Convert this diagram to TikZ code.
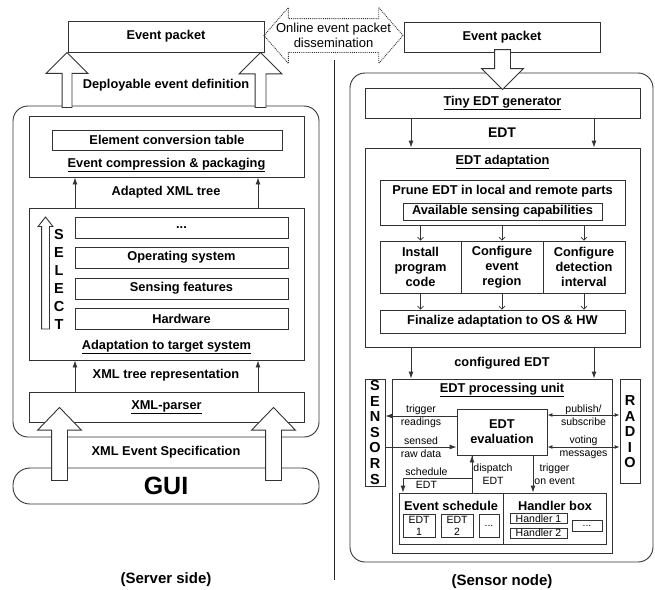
\documentclass[tikz,border=0pt]{standalone}
\usepackage{fontspec}
\setmainfont{Liberation Sans}
\usetikzlibrary{shapes.arrows, arrows.meta}

\begin{document}
\begin{tikzpicture}[
    x=1pt, y=-1pt,
    every node/.style={font=\fontsize{12.8}{15}\selectfont\bfseries},
    block/.style={rectangle, draw=black!80, line width=0.9pt, inner sep=0pt, align=center},
    layer/.style={block, minimum width=213pt, minimum height=21pt},
    slot/.style={block, font=\fontsize{10.5}{12}\selectfont},
    sidebox/.style={rectangle, draw=black!80, line width=0.9pt, rounded corners=15pt},
    lbl/.style={inner sep=0pt, align=center, font=\fontsize{10.5}{13}\selectfont},
    letter/.style={inner sep=0pt, font=\fontsize{14.5}{15}\selectfont\bfseries},
    hollow/.style={single arrow, draw=black!80, fill=white, line width=0.9pt,
        inner xsep=0pt, outer sep=0pt, anchor=tip, single arrow tip angle=90},
    share/.style={double arrow, draw=black!80, densely dotted, line width=0.9pt,
        inner xsep=0pt, inner ysep=16.5pt, double arrow head extend=11pt,
        double arrow tip angle=98},
    flow/.style={-{Latex[length=7pt, width=5pt]}, draw=black!80, line width=0.9pt},
    twoway/.style={{Latex[length=5pt, width=4pt]}-{Latex[length=5pt, width=4pt]},
        draw=black!80, line width=0.9pt},
    thin flow/.style={-{Straight Barb[length=3pt, width=6pt]}, draw=black!80, line width=0.6pt}
]
\useasboundingbox[fill=white] (0,0) rectangle (655,589);

% ---------------- Server side ----------------
\node[sidebox, minimum width=306pt, minimum height=331pt] (server) at (166,271.5) {};
\node[block, minimum width=196pt, minimum height=31pt] (lpacket) at (166,36.5) {Event packet};
\node (deploy) at (166,85) {Deployable event definition};

% Compression
\node[block, minimum width=275pt, minimum height=61pt] (compress) at (166.5,146.5) {};
\node[block, minimum width=230pt, minimum height=20pt] (table) at (167,140) {Element conversion table};
\node (comptitle) at (166.5,165) {\underline{Event compression \& packaging}};
\node (adapted) at (166,192) {Adapted XML tree};

% Adaptation to target system
\node[block, minimum width=275pt, minimum height=152pt] (adapt) at (166.5,284) {};
\node[layer] (more) at (181.5,227.5) {...};
\node[layer] (os) at (181.5,257.5) {Operating system};
\node[layer] (sensing) at (181.5,288.5) {Sensing features};
\node[layer] (hw) at (181.5,319) {Hardware};
\node (adapttitle) at (166.5,347) {\underline{Adaptation to target system}};
\node[hollow, rotate=90, minimum height=112pt, inner ysep=3.5pt,
    single arrow head extend=3.5pt, single arrow tip angle=76] (select) at (45.5,217) {};
\foreach \ch [count=\i] in {S,E,L,E,C,T}
    \node[letter] (sel\i) at (59,217+18*\i) {\ch};

% Parser and GUI
\node (xmltree) at (166,375) {XML tree representation};
\node[block, minimum width=275pt, minimum height=30pt] (parser) at (166.5,407) {\underline{XML-parser}};
\node (spec) at (166,452) {XML Event Specification};
\node[sidebox, rounded corners=17pt, minimum width=306pt, minimum height=36pt,
    font=\fontsize{25}{25}\selectfont\bfseries] (gui) at (166,486) {GUI};

% Thin arrows
\coordinate (lcol1) at (75,0);
\coordinate (lcol2) at (258,0);
\foreach \col in {lcol1, lcol2} {
    \draw[flow] (adapt.north -| \col) -- (compress.south -| \col);
    \draw[flow] (parser.north -| \col) -- (adapt.south -| \col);
}

% Hollow arrows
\node[hollow, rotate=90, minimum height=55pt, inner ysep=4.5pt,
    single arrow head extend=16pt] (defup1) at ([xshift=-99pt]lpacket.south) {};
\node[hollow, rotate=90, minimum height=55pt, inner ysep=5pt,
    single arrow head extend=16pt] (defup2) at ([xshift=94.5pt]lpacket.south) {};
\node[hollow, rotate=90, minimum height=73pt, inner ysep=7.5pt,
    single arrow head extend=14pt, single arrow tip angle=88] (guiup1) at ([xshift=-107pt, yshift=15pt]parser.south) {};
\node[hollow, rotate=90, minimum height=73pt, inner ysep=7.5pt,
    single arrow head extend=14pt, single arrow tip angle=88] (guiup2) at ([xshift=107pt, yshift=15pt]parser.south) {};

% Dissemination
\node[share, minimum height=139pt] (dissem) at (333.5,35.5) {};
\node[align=center, font=\fontsize{13}{15}\selectfont] (dissemtxt) at (dissem.center) {Online event packet\\dissemination};
\draw[draw=black!85, line width=1pt] (334,60) -- (334,580);

% ---------------- Sensor node ----------------
\node[block, minimum width=196pt, minimum height=30pt] (rpacket) at (502,37) {Event packet};
\node[sidebox, minimum width=303pt, minimum height=489pt] (sensor) at (501.5,317.5) {};
\node[block, minimum width=275pt, minimum height=30pt] (gen) at (502.5,103) {\underline{Tiny EDT generator}};
\node[hollow, rotate=-90, minimum height=40pt, inner ysep=7.5pt,
    single arrow head extend=13pt] (feed) at ([yshift=-2pt]gen.north) {};
\node[font=\fontsize{14}{14}\selectfont\bfseries] (edt) at (502,133) {EDT};

% EDT adaptation
\node[block, minimum width=275pt, minimum height=199pt] (edtadapt) at (502.5,247.5) {};
\node (edtadapttitle) at (502.5,162) {\underline{EDT adaptation}};
\node[block, minimum width=245pt, minimum height=45pt] (prune) at (502.5,202.5) {};
\node (prunetitle) at (502.5,191) {Prune EDT in local and remote parts};
\node[block, minimum width=199pt, minimum height=17pt] (caps) at (502.5,211.5) {Available sensing capabilities};
\node[block, minimum width=81pt, minimum height=52pt] (install) at (420.5,267) {Install\\program\\code};
\node[block, minimum width=82pt, minimum height=52pt] (region) at (502,267) {Configure\\event\\region};
\node[block, minimum width=82pt, minimum height=52pt] (interval) at (584,267) {Configure\\detection\\interval};
\node[block, minimum width=245pt, minimum height=23pt] (finalize) at (502.5,321.5) {Finalize adaptation to OS \& HW};
\foreach \cell in {install, region, interval} {
    \draw[thin flow] (prune.south -| \cell.north) -- (\cell.north);
    \draw[thin flow] (\cell.south) -- (finalize.north -| \cell.south);
}
\node (configured) at (502,363) {configured EDT};

% EDT processing unit
\node[block, minimum width=220pt, minimum height=174pt] (unit) at (502,466) {};
\node (unittitle) at (502,390) {\underline{EDT processing unit}};
\node[block, minimum width=20pt, minimum height=107pt] (sensors) at (375,432.5) {};
\foreach \ch [count=\i] in {S,E,N,S,O,R,S}
    \node[letter] (sens\i) at (375,370.5+15.5*\i) {\ch};
\node[block, minimum width=20pt, minimum height=104pt] (radio) at (630,431) {};
\foreach \ch [count=\i] in {R,A,D,I,O}
    \node[letter] (rad\i) at (630,385.5+15.5*\i) {\ch};
\node[block, minimum width=90pt, minimum height=46pt] (eval) at (502,432) {EDT\\evaluation};

% Event schedule and handlers
\node[block, minimum width=104pt, minimum height=51pt] (sched) at (451,518.5) {};
\node (schedtitle) at (451,506) {Event schedule};
\node[slot, minimum width=32pt, minimum height=23pt] (edt1) at (419,525.5) {EDT\\1};
\node[slot, minimum width=32pt, minimum height=23pt] (edt2) at (457,525.5) {EDT\\2};
\node[slot, minimum width=20pt, minimum height=23pt] (edtmore) at (489,525.5) {...};
\node[block, minimum width=103pt, minimum height=51pt] (handler) at (554.5,518.5) {};
\node (handlertitle) at (555,506) {Handler box};
\node[slot, minimum width=57pt, minimum height=10pt] (h1) at (538.5,518.5) {Handler 1};
\node[slot, minimum width=57pt, minimum height=10pt] (h2) at (538.5,533) {Handler 2};
\node[slot, minimum width=30pt, minimum height=11pt] (hmore) at (587,525.5) {...};

% Unit connectors
\coordinate (rcol1) at (411,0);
\coordinate (rcol2) at (594,0);
\foreach \col in {rcol1, rcol2} {
    \draw[flow] (gen.south -| \col) -- (edtadapt.north -| \col);
    \draw[flow] (edtadapt.south -| \col) -- (unit.north -| \col);
}
\coordinate (trigrow) at ([yshift=16pt]eval.west);
\coordinate (rawrow) at ([yshift=-15pt]eval.west);
\coordinate (pubrow) at ([yshift=17pt]eval.east);
\coordinate (voterow) at ([yshift=-15pt]eval.east);
\coordinate (dispcol) at (472,0);
\coordinate (trigcol) at (533,0);
\coordinate (schedbend) at (403,478);
\draw[flow] (trigrow) -- node[lbl] {trigger\\readings} (sensors.east |- trigrow);
\draw[flow] (sensors.east |- rawrow) -- node[lbl] {sensed\\raw data} (rawrow);
\draw[twoway] (pubrow) -- node[lbl] {publish/\\subscribe} (radio.west |- pubrow);
\draw[twoway] (voterow) -- node[lbl] {voting\\messages} (radio.west |- voterow);
\draw[flow] (eval.south -| dispcol) |- node[lbl, pos=0.83] {schedule\\EDT} (schedbend) -- (sched.north -| schedbend);
\draw[flow] (sched.north -| dispcol) -- node[lbl, right=1pt] {dispatch\\EDT} (eval.south -| dispcol);
\draw[flow] (eval.south -| trigcol) -- node[lbl, right=1pt] {trigger\\on event} (handler.north -| trigcol);

% Captions
\node[font=\fontsize{15}{15}\selectfont\bfseries] (servercap) at (166,580) {(Server side)};
\node[font=\fontsize{15}{15}\selectfont\bfseries] (sensorcap) at (502,582) {(Sensor node)};
\end{tikzpicture}
\end{document}
